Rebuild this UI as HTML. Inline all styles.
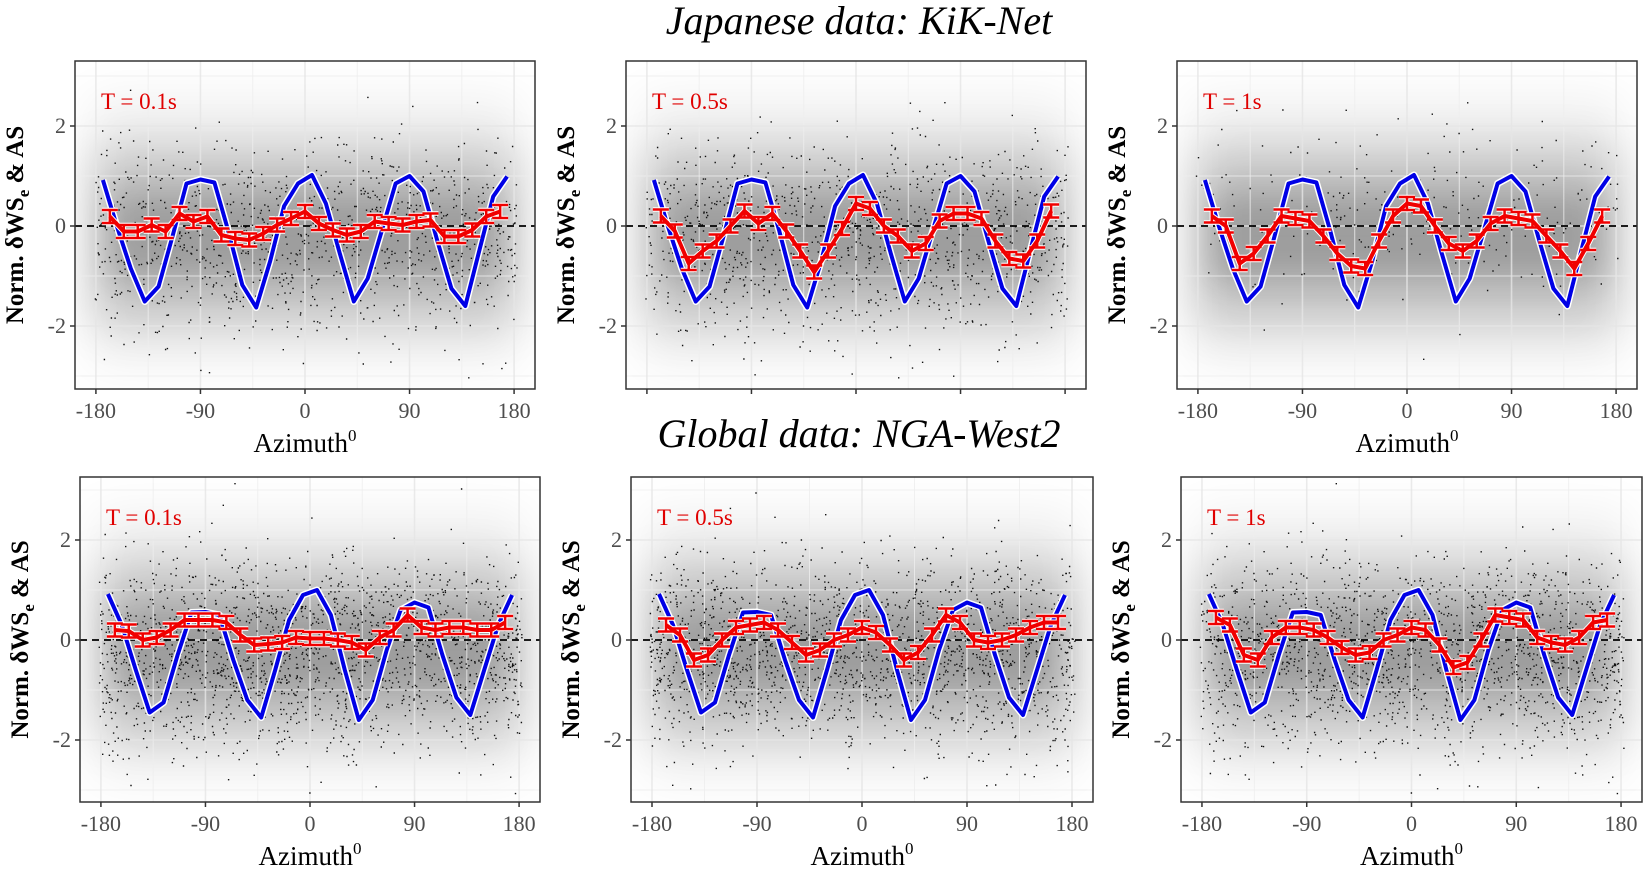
<!DOCTYPE html>
<html><head><meta charset="utf-8">
<style>
html,body{margin:0;padding:0;background:#fff;}
svg{display:block;}
text{font-family:"Liberation Serif",serif;}
</style></head>
<body>
<svg id="fig" width="1648" height="869" viewBox="0 0 1648 869" xmlns="http://www.w3.org/2000/svg">
<defs>
<filter id="blurA" x="-30%" y="-50%" width="160%" height="200%"><feGaussianBlur stdDeviation="24"/></filter>
<filter id="blurB" x="-30%" y="-50%" width="160%" height="200%"><feGaussianBlur stdDeviation="16"/></filter>
</defs>
<text x="859" y="34" text-anchor="middle" font-size="40" font-style="italic">Japanese data: KiK-Net</text>
<text x="859" y="447" text-anchor="middle" font-size="40" font-style="italic">Global data: NGA-West2</text>
</svg>
<script>
// ---- data ----
const blueAz = [-174,-162,-150,-138,-126,-114,-102,-90,-78,-66,-54,-42,-30,-18,-6,6,18,30,42,54,66,78,90,102,114,126,138,150,162,174];
const blueTop = [0.92,0.0,-0.85,-1.51,-1.21,-0.2,0.85,0.93,0.87,-0.1,-1.18,-1.63,-0.7,0.4,0.85,1.02,0.45,-0.55,-1.51,-1.05,-0.1,0.85,1.0,0.69,-0.3,-1.25,-1.6,-0.5,0.59,0.99];
const blueBot = [0.92,0.3,-0.6,-1.45,-1.25,-0.3,0.55,0.56,0.5,-0.4,-1.2,-1.55,-0.6,0.4,0.9,1.0,0.5,-0.6,-1.6,-1.2,-0.2,0.6,0.75,0.65,-0.3,-1.15,-1.5,-0.6,0.3,0.9];
const redAz = [-168,-156,-144,-132,-120,-108,-96,-84,-72,-60,-48,-36,-24,-12,0,12,24,36,48,60,72,84,96,108,120,132,144,156,168];
const redP1 = [0.19,-0.11,-0.11,0.02,-0.11,0.25,0.09,0.19,-0.18,-0.25,-0.28,-0.15,0.02,0.15,0.29,0.05,-0.08,-0.18,-0.11,0.09,0.05,0.02,0.09,0.12,-0.21,-0.21,-0.08,0.19,0.29];
const redP2 = [0.2,-0.1,-0.75,-0.5,-0.3,0.0,0.3,0.05,0.25,-0.1,-0.5,-0.92,-0.5,-0.05,0.45,0.35,0.0,-0.2,-0.5,-0.35,0.1,0.25,0.25,0.15,-0.3,-0.65,-0.7,-0.3,0.3];
const redP3 = [0.2,0.0,-0.75,-0.55,-0.2,0.2,0.15,0.1,-0.2,-0.55,-0.8,-0.85,-0.3,0.2,0.45,0.4,0.0,-0.35,-0.5,-0.3,0.05,0.2,0.15,0.1,-0.2,-0.5,-0.85,-0.35,0.2];
const redP4 = [0.2,0.18,0.0,0.05,0.2,0.4,0.4,0.4,0.35,0.1,-0.1,-0.08,-0.05,0.05,0.03,0.03,0.0,-0.05,-0.2,0.05,0.2,0.5,0.25,0.2,0.25,0.25,0.2,0.2,0.35];
const redP5 = [0.3,0.1,-0.4,-0.3,0.0,0.25,0.3,0.35,0.2,-0.05,-0.3,-0.2,0.0,0.1,0.25,0.15,-0.1,-0.4,-0.25,0.1,0.5,0.35,0.0,-0.05,0.0,0.1,0.25,0.35,0.35];
const redP6 = [0.45,0.3,-0.3,-0.4,0.05,0.25,0.25,0.2,0.05,-0.15,-0.3,-0.25,0.0,0.1,0.25,0.2,-0.1,-0.55,-0.45,0.0,0.5,0.45,0.4,0.05,-0.05,-0.1,0.05,0.35,0.4];
const redErr = 0.13;
const xTicks = [-180,-90,0,90,180];
const yTicks = [-2,0,2];
const panelLabels = ["T = 0.1s","T = 0.5s","T = 1s","T = 0.1s","T = 0.5s","T = 1s"];

// ---- layout ----
const NS="http://www.w3.org/2000/svg";
const svg=document.getElementById('fig');
const panels=[
 {x:75,y:61,w:460,h:328,yl:[-3.26,3.3],blue:blueTop,red:redP1,xl:true,seed:11,n:1100},
 {x:626,y:61,w:460,h:328,yl:[-3.26,3.3],blue:blueTop,red:redP2,xl:false,seed:23,n:1100},
 {x:1177,y:61,w:460,h:328,yl:[-3.26,3.3],blue:blueTop,red:redP3,xl:true,seed:37,n:1000},
 {x:80,y:477,w:460,h:325,yl:[-3.24,3.26],blue:blueBot,red:redP4,xl:true,seed:41,n:1900},
 {x:631,y:477,w:462,h:325,yl:[-3.24,3.26],blue:blueBot,red:redP5,xl:true,seed:53,n:1800},
 {x:1181,y:477,w:461,h:325,yl:[-3.24,3.26],blue:blueBot,red:redP6,xl:true,seed:67,n:1700}
];
function el(tag,attrs,parent){const e=document.createElementNS(NS,tag);for(const k in attrs)e.setAttribute(k,attrs[k]);(parent||svg).appendChild(e);return e;}
function rng(s){return function(){s=(s*1103515245+12345)%2147483648;return s/2147483648;};}

panels.forEach((p,i)=>{
  const X=a=>p.x+(a+198)/396*p.w;
  const Y=v=>p.y+(p.yl[1]-v)/(p.yl[1]-p.yl[0])*p.h;
  const g=el('g',{});
  
  
  const cid='clip'+i;
  const cp=el('clipPath',{id:cid},g); el('rect',{x:p.x,y:p.y,width:p.w,height:p.h},cp);
  el('rect',{x:p.x,y:p.y,width:p.w,height:p.h,fill:'#fff'},g);
  const inner=el('g',{'clip-path':'url(#'+cid+')'},g);
  const dens=el('g',{},inner);
  
  
  el('rect',{x:X(-186),y:Y(2.6),width:X(186)-X(-186),height:Y(-2.8)-Y(2.6),fill:'#000',opacity:0.06,filter:'url(#blurA)'},dens);
  el('rect',{x:X(-182),y:Y(1.5),width:X(182)-X(-182),height:Y(-1.9)-Y(1.5),fill:'#000',opacity:0.2,filter:'url(#blurA)'},dens);
  el('rect',{x:X(-170),y:Y(0.6),width:X(170)-X(-170),height:Y(-1.0)-Y(0.6),fill:'#000',opacity:0.17,filter:'url(#blurB)'},dens);
  // grid
  [-135,-45,45,135].forEach(a=>el('line',{x1:X(a),x2:X(a),y1:p.y,y2:p.y+p.h,stroke:'#eee','stroke-width':1,opacity:0.8},inner));
  [-3,-1,1,3].forEach(v=>el('line',{x1:p.x,x2:p.x+p.w,y1:Y(v),y2:Y(v),stroke:'#eee','stroke-width':1,opacity:0.8},inner));
  xTicks.forEach(a=>el('line',{x1:X(a),x2:X(a),y1:p.y,y2:p.y+p.h,stroke:'#e6e6e6','stroke-width':1.6,opacity:0.8},inner));
  yTicks.forEach(v=>el('line',{x1:p.x,x2:p.x+p.w,y1:Y(v),y2:Y(v),stroke:'#e6e6e6','stroke-width':1.6,opacity:0.8},inner));
  // scatter texture
  const r=rng(p.seed); let d='';
  for(let k=0;k<p.n;k++){
    const a=-182+r()*364;
    let u=0;for(let j=0;j<12;j++)u+=r();u=(u-6)*1.0-0.2;
    d+='M'+X(a).toFixed(1)+' '+Y(u).toFixed(1)+'h1.4v1.4h-1.4z';
  }
  const sc=el('path',{d:d,fill:'#111'},inner);
  
  
  el('line',{x1:p.x,x2:p.x+p.w,y1:Y(0),y2:Y(0),stroke:'#000','stroke-width':1.8,'stroke-dasharray':'7,5'},inner);
  const bp=blueAz.map((a,k)=>X(a).toFixed(1)+','+Y(p.blue[k]).toFixed(1)).join(' ');
  el('polyline',{points:bp,fill:'none',stroke:'#fff','stroke-width':7,'stroke-linejoin':'round'},inner);
  const bl=el('polyline',{points:bp,fill:'none',stroke:'#0000e6','stroke-width':4,'stroke-linejoin':'round'},inner);
  
  
  const rp=redAz.map((a,k)=>X(a).toFixed(1)+','+Y(p.red[k]).toFixed(1)).join(' ');
  let eb='';
  redAz.forEach((a,k)=>{const x=X(a),y1=Y(p.red[k]+redErr),y2=Y(p.red[k]-redErr);
    eb+='M'+(x-8)+' '+y1+'H'+(x+8)+'M'+x+' '+y1+'V'+y2+'M'+(x-8)+' '+y2+'H'+(x+8);});
  el('path',{d:eb,fill:'none',stroke:'#fff','stroke-width':4.5},inner);
  el('polyline',{points:rp,fill:'none',stroke:'#fff','stroke-width':6,'stroke-linejoin':'round'},inner);
  const ebp=el('path',{d:eb,fill:'none',stroke:'#f00000','stroke-width':2.5},inner);
  
  
  const rl=el('polyline',{points:rp,fill:'none',stroke:'#f00000','stroke-width':4,'stroke-linejoin':'round'},inner);
  
  
  el('rect',{x:p.x,y:p.y,width:p.w,height:p.h,fill:'none',stroke:'#333','stroke-width':1.5},g);
  const tl=el('text',{x:p.x+26,y:p.y+48,'font-size':23,fill:'#e00000'},g);
  tl.textContent=panelLabels[i];
  
  
  xTicks.forEach(a=>{
    el('line',{x1:X(a),x2:X(a),y1:p.y+p.h,y2:p.y+p.h+5,stroke:'#333','stroke-width':1.5},g);
    if(p.xl){const t=el('text',{x:X(a),y:p.y+p.h+29,'text-anchor':'middle','font-size':22,fill:'#4d4d4d'},g);t.textContent=a;
      
      }
  });
  yTicks.forEach(v=>{
    el('line',{x1:p.x-5,x2:p.x,y1:Y(v),y2:Y(v),stroke:'#333','stroke-width':1.5},g);
    const t=el('text',{x:p.x-9,y:Y(v)+7,'text-anchor':'end','font-size':22,fill:'#4d4d4d'},g);t.textContent=v;
    
    
  });
  if(p.xl){
    const t=el('text',{x:p.x+p.w/2,y:p.y+p.h+63,'text-anchor':'middle','font-size':27},g);
    t.innerHTML='Azimuth<tspan dy="-11" font-size="17">0</tspan>';
    
    
  }
  const cx=p.x-52, cy=p.y+p.h/2;
  const yt=el('text',{x:cx,y:cy,'text-anchor':'middle','font-size':25,'font-weight':'bold',transform:'rotate(-90 '+cx+' '+cy+')'},g);
  yt.innerHTML='Norm. δWS<tspan dy="6" font-size="17">e</tspan><tspan dy="-6"> &amp; AS</tspan>';
  
  
});
</script>
</body></html>
